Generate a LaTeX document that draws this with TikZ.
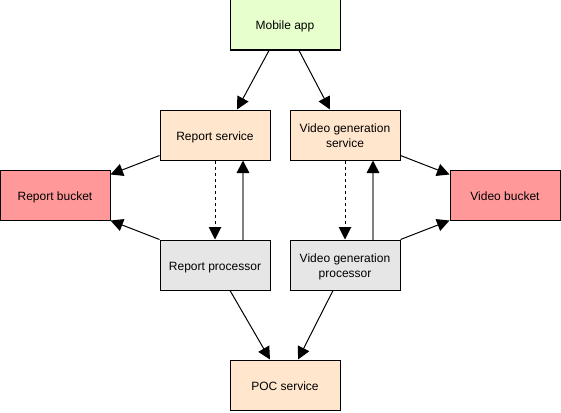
\documentclass[tikz,border=0pt]{standalone}
\usepackage{fontspec}
\setmainfont{Liberation Sans}
\usetikzlibrary{arrows.meta,calc}
\definecolor{appgreen}{HTML}{E6FFCC}
\definecolor{svcorange}{HTML}{FFE6CC}
\definecolor{bucketred}{HTML}{FF9999}
\definecolor{procgray}{HTML}{E6E6E6}
\definecolor{linegray}{HTML}{808080}
\tikzset{
  box/.style={draw=black, line width=1pt, minimum width=110pt, minimum height=50pt,
    inner sep=2pt, align=center, text height=10pt, text depth=0pt,
    font=\fontsize{12}{14.5}\selectfont},
  twoline/.style={text height=24.5pt, text depth=0pt},
  appbox/.style={box, fill=appgreen},
  svcbox/.style={box, fill=svcorange},
  bucketbox/.style={box, fill=bucketred},
  procbox/.style={box, fill=procgray},
  conn/.style={draw=black, line width=1pt, -{Triangle[length=12.5pt,width=12.5pt]}},
  dconn/.style={conn, dash pattern=on 3pt off 3pt},
  gconn/.style={draw=linegray, line width=1.6pt, -{Triangle[length=12.5pt,width=12.5pt,fill=black,color=black]}},
}
\begin{document}
\begin{tikzpicture}[x=1pt,y=-1pt]
\useasboundingbox (0,0) rectangle (561,412);
\node[appbox] (app) at (285,25) {Mobile app};
\node[svcbox] (rs) at (215,135) {Report service};
\node[svcbox, twoline] (vs) at (345,135) {Video generation\\service};
\node[bucketbox] (rb) at (55,195) {Report bucket};
\node[bucketbox] (vb) at (505,195) {Video bucket};
\node[procbox] (rp) at (215,265) {Report processor};
\node[procbox, twoline] (vp) at (345,265) {Video generation\\processor};
\node[svcbox] (poc) at (285,385) {POC service};

\draw[conn] ($(app.south)+(-16,0)$) -- ($(rs.north)+(22,0)$);
\draw[conn] ($(app.south)+(14,0)$) -- ($(vs.north)+(-15,0)$);
\draw[conn] ($(rs.south west)+(0,-5)$) -- ($(rb.north east)+(0,5)$);
\draw[conn] (rp.north west) -- (rb.south east);
\draw[dconn] (rs.south) -- (rp.north);
\draw[gconn] ($(rp.north)+(28,0)$) -- ($(rs.south)+(28,0)$);
\draw[dconn] (vs.south) -- (vp.north);
\draw[gconn] ($(vp.north)+(28,0)$) -- ($(vs.south)+(28,0)$);
\draw[conn] ($(vs.south east)+(0,-5)$) -- ($(vb.north west)+(0,5)$);
\draw[conn] (vp.north east) -- (vb.south west);
\draw[conn] ($(rp.south)+(15,0)$) -- ($(poc.north)+(-15,0)$);
\draw[conn] ($(vp.south)+(-12,0)$) -- ($(poc.north)+(13,0)$);
\end{tikzpicture}
\end{document}
